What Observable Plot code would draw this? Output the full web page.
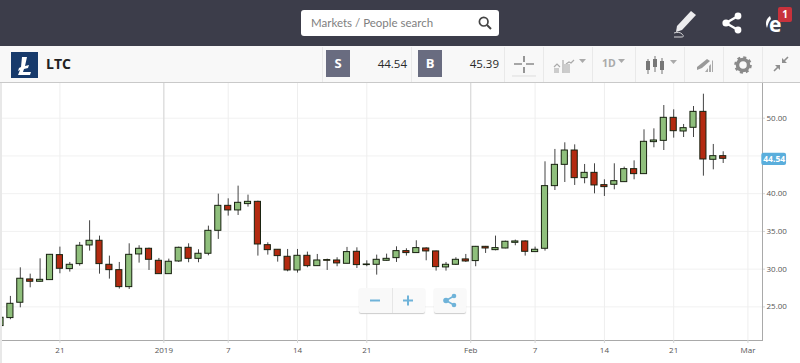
<!DOCTYPE html>
<html><head><meta charset="utf-8">
<script src="https://cdn.jsdelivr.net/npm/d3@7"></script>
<script src="https://cdn.jsdelivr.net/npm/@observablehq/plot@0.6"></script>
<style>
html,body{margin:0;padding:0;background:#fff;overflow:hidden}
#page{position:relative;width:800px;height:363px;font-family:"Open Sans",sans-serif}
.a{position:absolute}
#top{left:0;top:0;width:800px;height:46px;background:#3c3d4a}
#bar{left:0;top:46px;width:800px;height:36px;background:#f8f8f8;border-bottom:1px solid #c9c9c9}
#search{left:301px;top:10px;width:198px;height:26px;background:#fff;border-radius:3px}
#search span{position:absolute;left:10px;top:6px;font-family:Lato,sans-serif;font-size:11.5px;color:#808080}
.sb{top:50px;width:24px;height:27px;background:#696c80;color:#fff;font-weight:700;font-size:13px;line-height:27px;text-align:center}
.pr{top:50px;height:27px;line-height:28px;font-size:11.5px;color:#2a2a2a;font-weight:500;text-align:right}
.sep{top:47px;width:1px;height:35px;background:#e9e9e9}
#chart{left:0;top:83px}
#chart svg{display:block}
#stripe{left:0;top:83px;width:2px;height:280px;background:#e8e8e8}
.btn{background:#f9f9f9;box-shadow:0 1px 1px #ccc;border-radius:2px}
</style></head><body>
<div id="page">
<div class="a" id="chart"></div>
<div class="a" id="stripe"></div>
<div class="a" id="top"></div>
<div class="a" id="bar"></div>
<div class="a" id="search"><span>Markets / People search</span>
<svg class="a" style="left:177px;top:6px" width="14" height="14" viewBox="0 0 14 14"><circle cx="5.7" cy="5.7" r="4.3" fill="none" stroke="#444" stroke-width="1.7"/><path d="M9 9l4 4" stroke="#444" stroke-width="2"/></svg></div>
<svg class="a" style="left:672px;top:8px" width="28" height="30" viewBox="0 0 28 30"><path d="M5 18L19 3l5 4-14 15-6 2z" fill="#ececee"/><path d="M2 25c3-1 6-1 8 1s2 3-1 3H2" fill="none" stroke="#d8d8da"/></svg>
<svg class="a" style="left:720px;top:11px" width="24" height="24" viewBox="0 0 24 24"><path d="M18 5L6 12l12 7" fill="none" stroke="#fff" stroke-width="2.4"/><circle cx="18" cy="5" r="3.4" fill="#fff"/><circle cx="6" cy="12" r="3.6" fill="#fff"/><circle cx="18" cy="19" r="3.4" fill="#fff"/></svg>
<div class="a" style="left:769px;top:10px;color:#fff;font:700 21px 'Open Sans',sans-serif;line-height:28px">e</div>
<svg class="a" style="left:764px;top:15px" width="8" height="15" viewBox="0 0 8 15"><path d="M6 1C2 4 1 8 3 13 4 9 5 6 7 4z" fill="#fff"/></svg>
<div class="a" style="left:778px;top:7px;width:14px;height:15px;background:#c8323c;border-radius:2px;color:#fff;font-size:10px;font-weight:700;line-height:15px;text-align:center">1</div>
<svg class="a" style="left:11px;top:52px" width="27" height="26" viewBox="0 0 27 26"><rect width="27" height="26" fill="#173a6b"/><path d="M11 5h5l-2 9 4-1-1 3-4 1-1 3h8l-1 3H7l2-5-2 1 1-3 2-1z" fill="#fff"/></svg>
<div class="a" style="left:46px;top:54px;font-size:14px;font-weight:700;color:#222;line-height:20px">LTC</div>
<div class="a sb" style="left:326px">S</div>
<div class="a pr" style="left:352px;width:55px">44.54</div>
<div class="a sb" style="left:418px">B</div>
<div class="a pr" style="left:444px;width:55px">45.39</div>
<div class="a sep" style="left:322px"></div><div class="a sep" style="left:411px"></div>
<div class="a sep" style="left:504px"></div><div class="a sep" style="left:543px"></div><div class="a sep" style="left:592px"></div><div class="a sep" style="left:635px"></div><div class="a sep" style="left:684px"></div><div class="a sep" style="left:723px"></div><div class="a sep" style="left:762px"></div>
<svg class="a" style="left:510px;top:52px" width="28" height="26" viewBox="0 0 28 26"><path d="M4 12h8M16 12h8M14 4v6M14 15v6" stroke="#555" stroke-width="1.2"/><path d="M2 24h24" stroke="#ddd"/></svg>
<svg class="a" style="left:552px;top:56px" width="36" height="18" viewBox="0 0 36 18"><path d="M2 11l3-3 3 3M11 4v13M14 8l3-2 2 1 3-3" fill="none" stroke="#aaa" stroke-width="1.2"/><path d="M2 12h5v5H2zM12 8h6v9h-6z" fill="#ccc"/><path d="M27 3h7l-3.500 4z" fill="#aaa"/></svg>
<div class="a" style="left:602px;top:56px;font-size:10.5px;font-weight:700;color:#aaa;line-height:15px">1D</div>
<svg class="a" style="left:617px;top:58px" width="10" height="6" viewBox="0 0 10 6"><path d="M1 1h7l-3.500 4z" fill="#aaa"/></svg>
<svg class="a" style="left:645px;top:55px" width="36" height="20" viewBox="0 0 36 20"><path d="M3 4v15M10 1v16M17 3v16" stroke="#777"/><path d="M1 6h4v9H1zM8 4h4v8H8zM15 6h4v9h-4z" fill="#777"/><path d="M25 5h7l-3.500 4z" fill="#aaa"/></svg>
<svg class="a" style="left:696px;top:57px" width="18" height="16" viewBox="0 0 18 16"><path d="M1 10l10-8 3 2-8 7-5 2z" fill="#999"/><path d="M9 15l3-4v4zM13 15V9l2-2v8zM16 15V4l1-1v12z" fill="#aaa"/></svg>
<svg class="a" style="left:734px;top:56px" width="18" height="18" viewBox="0 0 18 18"><circle cx="9" cy="9" r="5.500" fill="none" stroke="#8a8a8a" stroke-width="3.500"/><circle cx="9" cy="9" r="7.600" fill="none" stroke="#8a8a8a" stroke-width="2.400" stroke-dasharray="3 2.970"/></svg>
<svg class="a" style="left:772px;top:55px" width="18" height="18" viewBox="0 0 18 18"><path d="M16 2l-5 5M2 16l5-5" stroke="#8f8f8f" stroke-width="1.600"/><path d="M10 3v5h5zM3 10h5v5z" fill="#8f8f8f"/></svg>
<div class="a btn" style="left:359px;top:288px;width:66px;height:25px"></div>
<div class="a" style="left:392px;top:288px;width:1px;height:25px;background:#e6e6e6"></div>
<div class="a btn" style="left:434px;top:288px;width:32px;height:25px"></div>
<svg class="a" style="left:369px;top:294px" width="13" height="13" viewBox="0 0 13 13"><path d="M1 6.500h10" stroke="#6fb3d9" stroke-width="2"/></svg>
<svg class="a" style="left:402px;top:294px" width="13" height="13" viewBox="0 0 13 13"><path d="M1 6.500h10M6 1.500v10" stroke="#6fb3d9" stroke-width="2"/></svg>
<svg class="a" style="left:442px;top:293px" width="16" height="15" viewBox="0 0 16 15"><path d="M12 3L4 7.500l8 4.500" fill="none" stroke="#6fb3d9" stroke-width="1.500"/><circle cx="12" cy="3" r="2.300" fill="#6fb3d9"/><circle cx="4" cy="7.500" r="2.800" fill="#6fb3d9"/><circle cx="12" cy="12" r="2.300" fill="#6fb3d9"/></svg>
</div>
<script>
const highs = [23.56,26.39,30.18,29.34,31.37,31.95,32.92,30.89,33.54,36.41,34.38,31.73,30.89,33.36,33.10,32.79,31.42,31.33,32.92,33.36,32.57,35.70,39.94,39.32,41.00,39.81,39.01,33.49,32.57,32.61,32.61,32.26,31.95,31.33,31.51,32.88,32.83,31.11,31.86,31.99,32.96,32.70,33.76,32.83,32.39,30.89,31.51,31.95,33.01,33.01,34.38,33.71,33.85,33.76,32.92,44.22,45.86,46.74,46.47,43.87,43.96,41.84,43.96,43.52,44.35,48.46,48.59,51.68,51.11,49.17,51.55,53.18,46.52,45.55];
const bodyTops = [23.56,25.41,28.73,28.64,28.59,31.90,31.86,30.58,33.10,33.76,33.76,30.58,29.87,31.90,32.70,32.70,31.11,30.98,32.83,32.83,32.04,35.08,38.39,38.39,38.79,38.92,38.92,33.18,32.57,31.64,31.77,31.77,31.15,31.20,31.15,32.26,32.30,30.62,31.24,31.37,32.39,32.39,32.79,32.74,32.35,30.58,31.24,31.29,32.96,32.96,32.79,33.63,33.67,33.67,32.57,41.00,43.82,45.72,45.72,42.76,42.76,41.13,41.66,43.25,43.25,46.87,47.05,50.05,50.05,48.68,50.84,50.84,44.97,44.97];
const bodyBottoms = [22.46,23.52,25.55,28.33,28.33,28.55,30.05,30.01,30.67,33.14,30.67,29.87,27.62,27.62,31.95,31.24,29.34,29.34,31.02,31.37,31.37,32.04,35.08,37.78,37.78,38.62,33.27,32.52,31.73,29.83,29.83,30.40,30.40,31.11,30.76,30.71,30.54,30.54,30.58,31.11,31.46,32.13,32.13,32.35,30.27,30.23,30.58,31.02,31.07,32.74,32.52,32.74,33.49,32.30,32.26,32.70,41.00,43.82,42.06,42.06,41.09,40.87,41.18,41.53,42.59,42.59,46.83,47.00,48.28,48.24,48.73,44.53,44.49,44.62];
const lows = [22.46,23.30,24.88,27.53,28.28,28.55,29.39,29.61,30.40,32.39,29.34,28.68,27.36,27.31,30.80,29.83,29.34,29.34,30.89,30.85,30.85,31.77,33.94,37.03,37.11,38.22,31.73,31.86,30.93,29.65,29.48,30.18,30.36,29.83,30.32,30.71,30.09,30.32,29.21,31.07,30.89,31.73,32.13,31.11,29.74,29.74,30.49,30.89,30.32,32.08,32.43,32.70,33.10,31.73,32.21,32.39,40.42,41.48,41.09,41.31,39.98,39.63,40.51,41.53,41.84,42.59,46.08,45.72,47.36,47.44,47.44,42.32,43.16,44.00];
const upDown = ["u","u","u","d","u","u","d","u","u","u","d","d","d","u","u","d","d","u","u","d","u","u","u","d","u","u","d","d","d","d","u","d","u","d","d","u","d","u","u","u","u","d","u","d","d","u","u","d","u","d","u","u","u","d","u","u","u","u","d","u","d","d","u","u","d","u","u","u","d","u","u","d","u","d"];
const tickPositions = [6,16.5,23,30,37,47.5,54,61,68,75.5];
const tickLabels = ["21","2019","7","14","21","Feb","7","14","21","Mar"];
const monthTicks = [16.5,47.5];
const yTicks = [25,30,35,40,45,50];
const yLabelTicks = [25,30,35,40,50];
const lastPrice = 44.54;

const candles = highs.map((h,i)=>({i,h,t:bodyTops[i],b:bodyBottoms[i],l:lows[i],d:upDown[i]}));
const plot = Plot.plot({
  width:800,height:280,
  marginTop:0,marginLeft:0,marginRight:38,marginBottom:23,
  style:{background:"transparent",fontFamily:"'Open Sans',sans-serif",fontSize:"8px",color:"#555",overflow:"visible"},
  x:{type:"linear",domain:[0,73],range:[0,722.7]},
  y:{domain:[25,50],range:[223.4,34.7]},
  color:{domain:["u","d"],range:["#8fbf7c","#b32a10"]},
  marks:[
    Plot.gridY(yTicks,{stroke:"#f1f1f1",strokeOpacity:1}),
    Plot.gridX(tickPositions,{stroke:"#eeeeee",strokeOpacity:1}),
    Plot.gridX(monthTicks,{stroke:"#d6d6d6",strokeOpacity:1}),
    Plot.frame({anchor:"bottom",stroke:"#a9a9a9"}),
    Plot.frame({anchor:"right",stroke:"#a9a9a9"}),
    Plot.axisX({ticks:tickPositions,tickSize:3,tickPadding:4,label:null,stroke:"#d6d6d6",strokeOpacity:1,
      tickFormat:d=>tickLabels[tickPositions.indexOf(d)],fill:"#555"}),
    Plot.axisY({ticks:yLabelTicks,anchor:"right",tickSize:2,tickPadding:2,label:null,stroke:"#d6d6d6",strokeOpacity:1,
      tickFormat:d=>d.toFixed(2),fill:"#555"}),
    Plot.ruleX(candles,{x:"i",y1:"l",y2:"h",stroke:"#444",strokeWidth:1}),
    Plot.rectY(candles,{x1:d=>d.i-0.31,x2:d=>d.i+0.31,y1:"b",y2:"t",fill:"d",stroke:"#17210f",strokeWidth:1}),
    Plot.rectY([lastPrice],{x1:76.9,x2:79.4,y1:d=>d-0.82,y2:d=>d+0.82,fill:"#5aaedc",rx:2}),
    Plot.text([lastPrice],{x:78.15,y:d=>d,text:d=>d.toFixed(2),fill:"#fff",fontWeight:700,fontSize:8.5})
  ]
});
document.getElementById("chart").appendChild(plot);
</script>
</body></html>
